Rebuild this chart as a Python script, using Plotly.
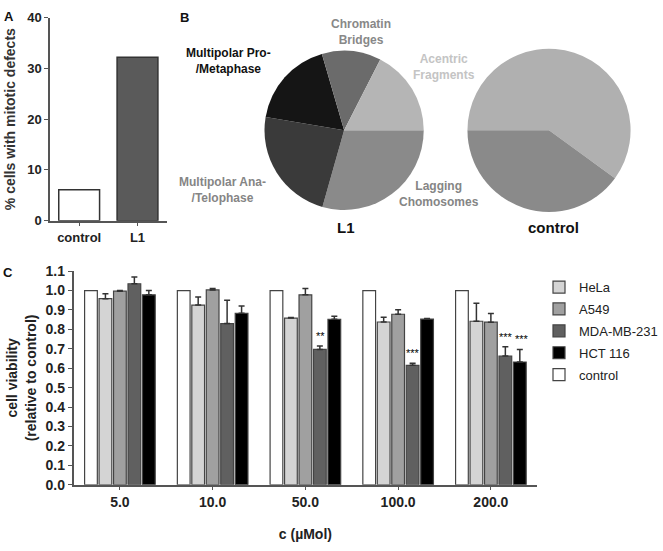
import plotly.graph_objects as go

W, H = 663, 551
FONT = "Liberation Sans, Arial, sans-serif"

# panel A: mitotic defects
a_groups = ["control", "L1"]
a_values = [6.1, 32.2]

# panel B: defect distribution (clockwise from 3 o'clock)
b_labels = ["Lagging Chomosomes", "Multipolar Ana-/Telophase", "Multipolar Pro-/Metaphase",
            "Chromatin Bridges", "Acentric Fragments"]
b_l1 = [29.4, 23.3, 17.8, 12.0, 17.5]
b_control_labels = ["Acentric Fragments", "Lagging Chomosomes"]
b_control = [60, 40]

# panel C: cell viability
conc = ["5.0", "10.0", "50.0", "100.0", "200.0"]
control = [1.0, 1.0, 1.0, 1.0, 1.0]
hela = [0.958, 0.925, 0.858, 0.838, 0.842]
hela_err = [0.025, 0.042, 0.003, 0.025, 0.093]
a549 = [0.997, 1.003, 0.978, 0.878, 0.837]
a549_err = [0.003, 0.007, 0.033, 0.023, 0.045]
mda = [1.035, 0.83, 0.697, 0.615, 0.663]
mda_err = [0.035, 0.12, 0.018, 0.01, 0.047]
hct = [0.978, 0.883, 0.852, 0.853, 0.632]
hct_err = [0.022, 0.037, 0.016, 0.003, 0.065]
mda_stars = ["", "", "**", "***", "***"]
hct_stars = ["", "", "", "", "***"]


def px(x, y):
    return x / W, 1 - y / H


fig = go.Figure()

# ---- panel A
fig.add_trace(go.Bar(x=a_groups, y=a_values, xaxis="x", yaxis="y", width=0.7,
                     marker=dict(color=["white", "#5a5a5a"], line=dict(color="#333", width=1.5)),
                     showlegend=False))

# ---- panel B
fig.add_trace(go.Pie(labels=b_labels, values=b_l1, sort=False, direction="clockwise",
                     rotation=90, textinfo="none", hoverinfo="label+percent",
                     marker=dict(colors=["#8a8a8a", "#3a3a3a", "#151515", "#6b6b6b", "#b5b5b5"],
                                 line=dict(width=0)),
                     domain=dict(x=[268 / W, 434 / W], y=[1 - 208 / H, 1 - 44 / H]),
                     showlegend=False))
fig.add_trace(go.Pie(labels=b_control_labels, values=b_control, sort=False,
                     direction="clockwise", rotation=-90, textinfo="none",
                     marker=dict(colors=["#b0b0b0", "#8a8a8a"], line=dict(width=0)),
                     domain=dict(x=[476 / W, 644 / W], y=[1 - 210 / H, 1 - 42 / H]),
                     showlegend=False))

# ---- panel C
series = [("control", control, None, "white", 5),
          ("HeLa", hela, hela_err, "#d4d4d4", 1),
          ("A549", a549, a549_err, "#a0a0a0", 2),
          ("MDA-MB-231", mda, mda_err, "#606060", 3),
          ("HCT 116", hct, hct_err, "#000000", 4)]
for name, vals, err, col, rank in series:
    eb = None
    if err:
        eb = dict(type="data", array=err, arrayminus=[0] * len(err), symmetric=False,
                  color="#333", thickness=1.5, width=3)
    fig.add_trace(go.Bar(name=name, x=conc, y=vals, error_y=eb, xaxis="x2", yaxis="y2",
                         marker=dict(color=col, line=dict(color="#444", width=1.2)),
                         legendrank=rank, legendgroup=name))

# significance stars (x given as category index, "50.0" would be read as serial 50)
for i in range(len(conc)):
    for stars, vals, err, shift in [(mda_stars, mda, mda_err, 15), (hct_stars, hct, hct_err, 31)]:
        if stars[i]:
            fig.add_annotation(x=i, y=vals[i] + err[i] + 0.01, xref="x2", yref="y2",
                               text=stars[i], showarrow=False, xshift=shift, yanchor="bottom",
                               font=dict(family=FONT, size=11, color="#000"))

axis_common = dict(showline=True, linecolor="#555", linewidth=1.5, ticks="outside",
                   ticklen=4, tickcolor="#555", showgrid=False, zeroline=False)

fig.update_layout(
    width=W, height=H, margin=dict(l=0, r=0, t=0, b=0),
    paper_bgcolor="white", plot_bgcolor="white",
    font=dict(family=FONT, color="#222"),
    barmode="group", bargap=0.22, bargroupgap=0.12,
    xaxis=dict(domain=[51 / W, 170 / W], anchor="y", type="category", **axis_common,
               tickfont=dict(family=FONT, size=13, color="#222", weight="bold")),
    yaxis=dict(domain=[1 - 219 / H, 1 - 10 / H], anchor="x", range=[0, 40],
               tickvals=[0, 10, 20, 30, 40], **axis_common,
               tickfont=dict(family=FONT, size=13, color="#222", weight="bold"),
               title=dict(text="% cells with mitotic defects",
                          font=dict(family=FONT, size=14, color="#333", weight="bold"), standoff=8)),
    xaxis2=dict(domain=[75 / W, 548 / W], anchor="y2", type="category", **axis_common,
                tickfont=dict(family=FONT, size=14, color="#222", weight="bold"),
                title=dict(text="c (µMol)", standoff=20,
                           font=dict(family=FONT, size=14, color="#222", weight="bold"))),
    yaxis2=dict(domain=[1 - 491 / H, 1 - 271 / H], anchor="x2", range=[0, 1.1],
                tickvals=[i / 10 for i in range(12)], tickformat=".1f", **axis_common,
                tickfont=dict(family=FONT, size=14, color="#222", weight="bold"),
                title=dict(text="cell viability<br>(relative to control)",
                           font=dict(family=FONT, size=14, color="#222", weight="bold"),
                           standoff=6)),
    legend=dict(x=550 / W, y=1 - 272 / H, xanchor="left", yanchor="top",
                font=dict(family=FONT, size=13, color="#222"), tracegroupgap=2,
                bgcolor="rgba(0,0,0,0)"),
)

# panel letters
for t, x, y in [("A", 9, 9), ("B", 188, 10), ("C", 8, 272)]:
    xx, yy = px(x, y)
    fig.add_annotation(x=xx, y=yy, xref="paper", yref="paper", text="<b>%s</b>" % t,
                       xanchor="center", yanchor="middle", showarrow=False,
                       font=dict(family=FONT, size=13, color="#111"))

# pie labels
pie_text = [("Chromatin<br>Bridges", 368, 25, "#888888", 12),
            ("Multipolar Pro-<br>/Metaphase", 233, 55, "#111111", 12),
            ("Acentric<br>Fragments", 453, 61, "#c4c4c4", 12),
            ("Multipolar Ana-<br>/Telophase", 227, 187, "#858585", 12),
            ("Lagging<br>Chomosomes", 448, 192, "#858585", 12),
            ("L1", 353, 226, "#111111", 15),
            ("control", 565, 226, "#111111", 15)]
for t, x, y, col, sz in pie_text:
    xx, yy = px(x, y)
    fig.add_annotation(x=xx, y=yy, xref="paper", yref="paper", text="<b>%s</b>" % t,
                       xanchor="center", yanchor="middle", showarrow=False,
                       font=dict(family=FONT, size=sz, color=col))

fig.write_html("out.html", config={"displayModeBar": False},
               post_script="document.body.style.margin='0px';")
